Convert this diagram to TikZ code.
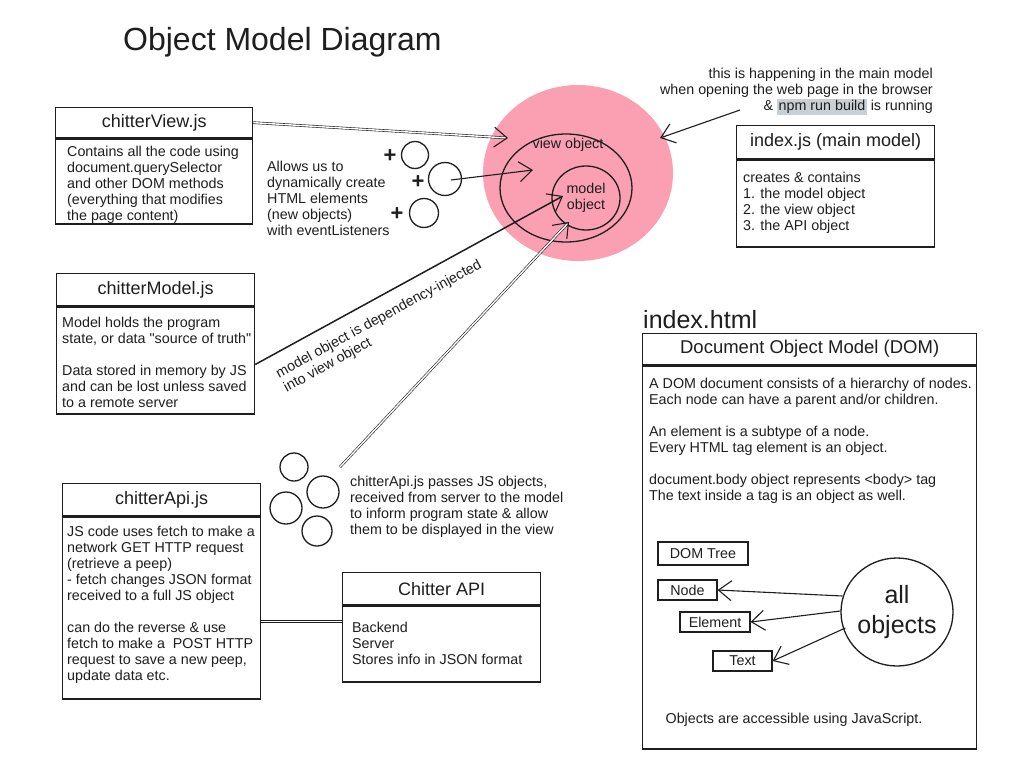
\documentclass[tikz,border=0pt]{standalone}
\usepackage{fontspec}
\setmainfont{Liberation Sans}
\usetikzlibrary{arrows.meta,calc,shapes.geometric}
\definecolor{ink}{RGB}{30,30,30}
\definecolor{pinkfill}{RGB}{250,160,178}
\definecolor{hlgray}{RGB}{200,208,214}
\begin{document}
\begin{tikzpicture}[x=1pt,y=-1pt,
  every node/.style={font=\fontsize{14.3}{16}\selectfont, text=ink},
  box/.style={draw=ink, line width=1.3pt, inner sep=0pt, anchor=north west},
  hdr/.style={font=\fontsize{18}{20}\selectfont},
  txt/.style={align=left, anchor=north west, inner sep=0pt},
  conn/.style={draw=ink, line width=1.1pt},
  arr/.style={conn, -{Straight Barb[length=13pt,width=20pt,line width=1.1pt]}},
  dbl/.style={draw=ink, double=white, double distance=1.4pt, line width=0.6pt},
  dblarr/.style={dbl, -{Straight Barb[length=13pt,width=20pt,line width=1.1pt]}},
  obj/.style={circle, draw=ink, line width=1.3pt, inner sep=0pt},
  plus/.style={font=\fontsize{22}{22}\selectfont\bfseries, inner sep=0pt},
  tag/.style={draw=ink, line width=1.2pt, inner sep=0pt},
]
\useasboundingbox[fill=white] (0,0) rectangle (1032,776);

% title
\node[anchor=west, inner sep=0pt, font=\fontsize{32}{36}\selectfont] (title) at (123,42) {Object Model Diagram};

% chitterView.js
\node[box, hdr, minimum width=197, minimum height=30] (vh) at (55,107) {};
\node[hdr] (vht) at (vh.center) {chitterView.js};
\node[box, minimum width=197, minimum height=85] (vb) at (vh.south west) {};
\node[txt] (vbt) at ($(vb.north west)+(12,8)$) {Contains all the code using\\document.querySelector\\and other DOM methods\\(everything that modifies\\the page content)};

% chitterModel.js
\node[box, minimum width=198, minimum height=32] (mh) at (56,273) {};
\node[hdr] (mht) at (mh.center) {chitterModel.js};
\node[box, minimum width=198, minimum height=107] (mb) at (mh.south west) {};
\node[txt] (mbt) at ($(mb.north west)+(6,11)$) {Model holds the program\\state, or data \textquotedbl source of truth\textquotedbl\\[16pt]Data stored in memory by JS\\and can be lost unless saved\\to a remote server};

% chitterApi.js
\node[box, minimum width=198, minimum height=32] (ah) at (62,483) {};
\node[hdr] (aht) at (ah.center) {chitterApi.js};
\node[box, minimum width=198, minimum height=182] (ab) at (ah.south west) {};
\node[txt] (abt) at ($(ab.north west)+(5,10)$) {JS code uses fetch to make a\\network GET HTTP request\\(retrieve a peep)\\- fetch changes JSON format\\received to a full JS object\\[16pt]can do the reverse \& use\\fetch to make a \ POST HTTP\\request to save a new peep,\\update data etc.};

% Chitter API
\node[box, minimum width=198, minimum height=32] (ch) at (342,572) {};
\node[hdr] (cht) at (ch.center) {Chitter API};
\node[box, minimum width=198, minimum height=76] (cb) at (ch.south west) {};
\node[txt] (cbt) at ($(cb.north west)+(10,17)$) {Backend\\Server\\Stores info in JSON format};

% vertical links
\draw[conn] ($(vb.south)+(-1,0)$) -- ($(vb.south)+(-1,0)$ |- mh.north);
\draw[conn] ($(mb.south)+(1,0)$) -- ($(mb.south)+(1,0)$ |- ah.north);
\draw[dbl] ($(ab.north east)+(0,105)$) coordinate (apiR) -- (apiR -| cb.west);

% pink area and object circles
\node[ellipse, fill=pinkfill, minimum width=190, minimum height=176, inner sep=0pt] (pink) at (578,173) {};
\node[ellipse, draw=ink, line width=1.3pt, minimum width=132, minimum height=108, inner sep=0pt] (view) at (566,188) {};
\node (viewt) at (568,145) {view object};
\node[ellipse, draw=ink, line width=1.3pt, minimum width=68, minimum height=64, inner sep=0pt, align=center] (model) at (586,198) {model\\object};

% middle text and new objects
\node[txt] (allows) at (267,161) {Allows us to\\dynamically create\\HTML elements\\(new objects)\\with eventListeners};
\node[plus] (p1) at (390,156) {+};
\node[obj, minimum size=27] (o1) at (415,155) {};
\node[plus] (p2) at (418,182) {+};
\node[obj, minimum size=33] (o2) at (445,179) {};
\node[plus] (p3) at (397,214) {+};
\node[obj, minimum size=29] (o3) at (424,213) {};

% arrows into view object
\coordinate (vtip) at (508,138);
\draw[dblarr] (vh.east) -- (vtip);
\coordinate (ntip) at (533,170);
\draw[arr] ($(o2.center)+(6,1)$) -- (ntip);
\coordinate (mtip) at (563,196);
\draw[arr, line width=1.5pt] ($(mb.east)+(0,4)$) -- (mtip);
\node[rotate=28.6, anchor=north west, align=left, inner sep=0pt] (dilabel) at (274,369) {model object is dependency-injected\\into view object};
\coordinate (atail) at (340,467);
\coordinate (atip) at (569,222);
\draw[dblarr] (atail) -- (atip);

% api objects
\node[obj, minimum size=28] (q1) at (294,467) {};
\node[obj, minimum size=32] (q2) at (323,492) {};
\node[obj, minimum size=32] (q3) at (286,508) {};
\node[obj, minimum size=30] (q4) at (317,531) {};
\node[txt] (passes) at (350,476) {chitterApi.js passes JS objects,\\received from server to the model\\to inform program state \& allow\\them to be displayed in the view};

% annotation
\node[align=right, anchor=north east, inner sep=0pt] (ann) at (933,68) {this is happening in the main model\\when opening the web page in the browser\\\& {\setlength\fboxsep{1.5pt}\colorbox{hlgray}{npm run build}} is running};
\coordinate (anntail) at (740,110);
\coordinate (anntip) at (660,138);
\draw[arr] (anntail) -- (anntip);

% index.js
\node[box, minimum width=198, minimum height=33] (ih) at (736,125) {};
\node[hdr] (iht) at (ih.center) {index.js (main model)};
\node[box, minimum width=198, minimum height=87] (ib) at (ih.south west) {};
\node[txt] (ibt) at ($(ib.north west)+(7,13)$) {creates \& contains\\1. the model object\\2. the view object\\3. the API object};

% index.html / DOM
\node[anchor=west, inner sep=0pt, font=\fontsize{25}{28}\selectfont] (ihtml) at (643,320) {index.html};
\node[box, minimum width=334, minimum height=31] (dh) at (642,333) {};
\node[font=\fontsize{18.5}{20}\selectfont] (dht) at (dh.center) {Document Object Model (DOM)};
\node[box, minimum width=334, minimum height=383] (db) at (dh.south west) {};
\node[txt] (dbt) at ($(db.north west)+(7,13)$) {A DOM document consists of a hierarchy of nodes.\\Each node can have a parent and/or children.\\[16pt]An element is a subtype of a node.\\Every HTML tag element is an object.\\[16pt]document.body object represents <body> tag\\The text inside a tag is an object as well.};

\node[tag, minimum width=90, minimum height=23] (tree) at (703,553.5) {DOM Tree};
\node[tag, minimum width=59, minimum height=20] (tnode) at (687.5,590) {Node};
\node[tag, minimum width=70, minimum height=20] (tel) at (715,622) {Element};
\node[tag, minimum width=59, minimum height=20] (ttext) at (742.5,661) {Text};
\node[ellipse, draw=ink, line width=1.3pt, minimum width=100, minimum height=108, inner sep=0pt, align=center, font=\fontsize{25}{30}\selectfont] (allobj) at (897,612) {all\\objects};
\draw[arr] ($(allobj.west)+(2,-16)$) -- (tnode.east);
\draw[arr] ($(allobj.west)+(0,-1)$) -- (tel.east);
\draw[arr] ($(allobj.west)+(5,16)$) -- (ttext.east);
\node (access) at (794,720) {Objects are accessible using JavaScript.};
\end{tikzpicture}
\end{document}
